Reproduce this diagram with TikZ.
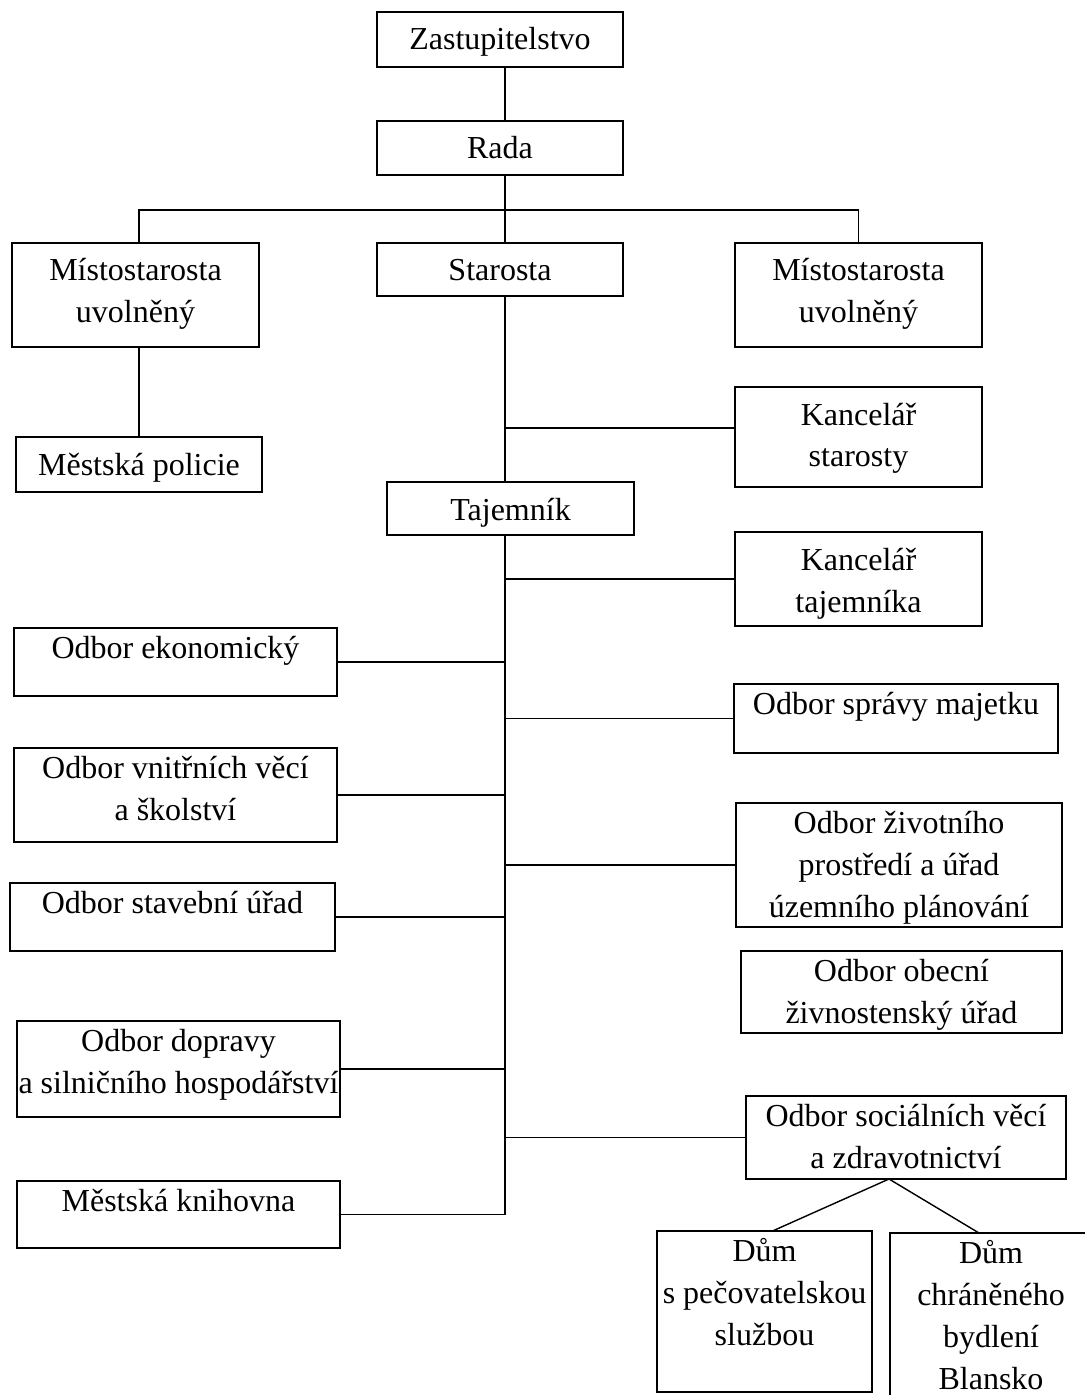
\documentclass[tikz,border=0pt]{standalone}
\usepackage{fontspec}
\setmainfont{Liberation Serif}
\usepackage{tikz}
% Kasten: [Abstand oben]{Name}{x1}{y1}{x2}{y2}{Text}
\newcommand{\kasten}[7][0]{%
  \pgfmathsetmacro{\kastenbreite}{(#5-#3)*0.5}%
  \pgfmathsetmacro{\kastenhoehe}{(#6-#4)*0.5}%
  \node[kasten] (#2) at ({(#3+#5)/2},{(#4+#6)/2})
    {\parbox[c][\kastenhoehe pt][t]{\kastenbreite pt}{\centering\rule{0pt}{\dimexpr #1pt+15pt\relax}#7}};%
}

\begin{document}
\begin{tikzpicture}[kasten/.style={draw, inner sep=0pt, outer sep=0pt, font=\fontsize{16}{21}\selectfont},
			x=0.5pt, y=-0.5pt, line width=0.7pt]
			%Bildbereich
			\useasboundingbox (0,0) rectangle (1085,1395);
			\clip (0,0) rectangle (1085,1395);
			\coordinate (achse) at (505,0);
			%Obere Ebene
			\kasten[4]{zast}{377}{12}{623}{67}{Zastupitelstvo}
			\kasten[4]{rada}{377}{121}{623}{175}{Rada}
			\kasten[4]{mist1}{12}{243}{259}{347}{Místostarosta\\uvolněný}
			\kasten[4]{star}{377}{243}{623}{296}{Starosta}
			\kasten[4]{mist2}{735}{243}{982}{347}{Místostarosta\\uvolněný}
			\kasten[4]{pol}{16}{437}{262}{492}{Městská policie}
			\kasten[4]{kst}{735}{387}{982}{487}{Kancelář\\starosty}
			\kasten[4]{taj}{387}{482}{634}{535}{Tajemník}
			\kasten[4]{ktaj}{735}{532}{982}{626}{Kancelář\\tajemníka}
			%Odbory links
			\kasten{oek}{14}{628}{337}{696}{Odbor ekonomický}
			\kasten{vni}{14}{748}{337}{842}{Odbor vnitřních věcí\\a školství}
			\kasten{bau}{10}{883}{335}{951}{Odbor stavební úřad}
			\kasten{dop}{17}{1021}{340}{1117}{Odbor dopravy\\a silničního hospodářství}
			\kasten{bib}{17}{1181}{340}{1248}{Městská knihovna}
			%Odbory rechts
			\kasten{verm}{734}{684}{1058}{753}{Odbor správy majetku}
			\kasten{umw}{736}{803}{1062}{927}{Odbor životního\\prostředí a úřad\\územního plánování}
			\kasten{gew}{741}{951}{1062}{1033}{Odbor obecní\\živnostenský úřad}
			\kasten{soz}{746}{1096}{1066}{1179}{Odbor sociálních věcí\\a zdravotnictví}
			\kasten{dum1}{657}{1231}{872}{1392}{Dům\\s pečovatelskou\\službou}
			\kasten{dum2}{890}{1233}{1092}{1420}{Dům\\chráněného\\bydlení\\Blansko}
			%Verbindungen
			\draw (zast.south -| achse) -- (rada.north -| achse);
			\draw (rada.south -| achse) -- (star.north -| achse);
			\draw (pol.north |- mist1.north) -- ++(0,-33) -| (mist2.north);
			\draw (pol.north |- mist1.south) -- (pol.north);
			\draw (star.south -| achse) -- (taj.north -| achse);
			\draw ([yshift=4.5pt]kst.west) -- ([yshift=4.5pt]kst.west -| achse);
			\draw (taj.south -| achse) -- (bib.east -| achse);
			\foreach \n in {oek,vni,bau,dop,bib} \draw (\n.east) -- (\n.east -| achse);
			\foreach \n in {ktaj,verm,umw,soz} \draw (\n.west) -- (\n.west -| achse);
			\draw ([xshift=4pt]dum1.north) -- ([xshift=-8.5pt]soz.south) -- ([xshift=-6pt]dum2.north);
		\end{tikzpicture}
\end{document}
